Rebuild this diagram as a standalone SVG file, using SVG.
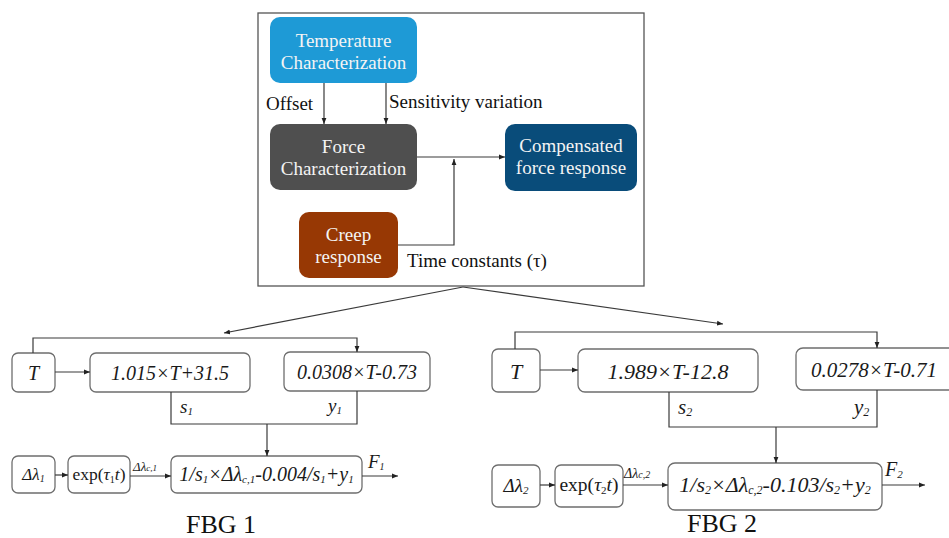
<svg xmlns="http://www.w3.org/2000/svg" width="949" height="538" viewBox="0 0 949 538" font-family="'Liberation Serif', 'Times New Roman', 'DejaVu Serif', serif">
<defs>
<style>
text{font-family:'Liberation Serif','Times New Roman','DejaVu Serif',serif}
.frame{fill:none;stroke:#555;stroke-width:1.3}
.tb{stroke:none}
.wt{font-size:19px;fill:#f4f4f4;text-anchor:middle}
.lb{font-size:19px;fill:#111}
.box{fill:#fff;stroke:#6e6e6e;stroke-width:1.3}
.ln{fill:none;stroke:#3a3a3a;stroke-width:1.2}
.it{font-style:italic;fill:#1a1a1a;text-anchor:middle}
.il{font-style:italic;fill:#1a1a1a;text-anchor:start}
.rm{fill:#1a1a1a;text-anchor:middle}
.big{font-size:26px;fill:#111;text-anchor:middle}
</style>
<marker id="ah" viewBox="0 0 10 10" refX="10" refY="5" markerWidth="6" markerHeight="6" orient="auto" markerUnits="userSpaceOnUse">
<path d="M0,1 L10,5 L0,9 z" fill="#222"/>
</marker>
</defs>
<rect width="949" height="538" fill="#fff"/>
<rect class="frame" x="258" y="13" width="386" height="273"/>

<g id="temp">
<rect class="tb" x="270" y="17" width="147" height="66" rx="10" fill="#1e9ad6"/>
<text class="wt" x="343.5" y="47">Temperature</text>
<text class="wt" x="343.5" y="69">Characterization</text>
</g>
<g id="force">
<rect class="tb" x="270" y="124" width="147" height="66" rx="10" fill="#4f4f4f"/>
<text class="wt" x="343.5" y="153">Force</text>
<text class="wt" x="343.5" y="175">Characterization</text>
</g>
<g id="comp">
<rect class="tb" x="505" y="124" width="132" height="67" rx="10" fill="#094c7a"/>
<text class="wt" x="571" y="152">Compensated</text>
<text class="wt" x="571" y="174">force response</text>
</g>
<g id="creep">
<rect class="tb" x="299" y="212" width="99" height="66" rx="10" fill="#973804"/>
<text class="wt" x="348.5" y="241">Creep</text>
<text class="wt" x="348.5" y="263">response</text>
</g>

<g id="fbg1-T"><rect class="box" x="12" y="353" width="43" height="39" rx="6"/><text class="it" x="33.5" y="380" font-size="20">T</text></g>
<g id="fbg1-s"><rect class="box" x="90" y="353" width="160" height="39" rx="6"/><text class="it" x="170" y="380" font-size="20">1.015×T+31.5</text></g>
<g id="fbg1-y"><rect class="box" x="284" y="352" width="146" height="39" rx="6"/><text class="it" x="357" y="379" font-size="20">0.0308×T-0.73</text></g>
<g id="fbg1-dl"><rect class="box" x="12" y="456" width="43" height="37" rx="6"/><text class="it" x="33.5" y="480" font-size="17">Δλ<tspan font-size="10" dy="2">1</tspan></text></g>
<g id="fbg1-exp"><rect class="box" x="68" y="456" width="62" height="37" rx="6"/><text class="rm" x="99" y="480" font-size="17.5">exp(<tspan font-style="italic">τ</tspan><tspan font-size="10" dy="3">1</tspan><tspan font-style="italic" dy="-3">t</tspan>)</text></g>
<g id="fbg1-f"><rect class="box" x="171" y="456" width="191" height="37" rx="6"/><text class="it" x="266.5" y="481" font-size="20">1/s<tspan font-size="11" dy="2">1</tspan><tspan dy="-2">×Δλ</tspan><tspan font-size="11" dy="2">c,1</tspan><tspan dy="-2">-0.004/s</tspan><tspan font-size="11" dy="2">1</tspan><tspan dy="-2">+y</tspan><tspan font-size="11" dy="2">1</tspan></text></g>

<g id="fbg2-T"><rect class="box" x="492" y="349" width="48" height="43" rx="6"/><text class="it" x="516" y="379" font-size="22">T</text></g>
<g id="fbg2-s"><rect class="box" x="578" y="349" width="180" height="43" rx="7"/><text class="it" x="668" y="379" font-size="22">1.989×T-12.8</text></g>
<g id="fbg2-y"><rect class="box" x="796" y="348" width="160" height="42" rx="7"/><text class="it" x="874" y="377" font-size="21">0.0278×T-0.71</text></g>
<g id="fbg2-dl"><rect class="box" x="492" y="465" width="48" height="42" rx="6"/><text class="it" x="516" y="492" font-size="19">Δλ<tspan font-size="11" dy="2">2</tspan></text></g>
<g id="fbg2-exp"><rect class="box" x="555" y="465" width="68" height="42" rx="6"/><text class="rm" x="589" y="491" font-size="19.5">exp(<tspan font-style="italic">τ</tspan><tspan font-size="11" dy="3">2</tspan><tspan font-style="italic" dy="-3">t</tspan>)</text></g>
<g id="fbg2-f"><rect class="box" x="668" y="463" width="214" height="47" rx="7"/><text class="it" x="775" y="492" font-size="22">1/s<tspan font-size="12" dy="2">2</tspan><tspan dy="-2">×Δλ</tspan><tspan font-size="12" dy="2">c,2</tspan><tspan dy="-2">-0.103/s</tspan><tspan font-size="12" dy="2">2</tspan><tspan dy="-2">+y</tspan><tspan font-size="12" dy="2">2</tspan></text></g>

<g id="connectors">
<line class="ln" x1="324" y1="83" x2="324" y2="124" marker-end="url(#ah)"/>
<line class="ln" x1="386" y1="83" x2="386" y2="124" marker-end="url(#ah)"/>
<line class="ln" x1="417" y1="157" x2="505" y2="157" marker-end="url(#ah)"/>
<polyline class="ln" points="398,245 454,245 454,159" marker-end="url(#ah)"/>
<line class="ln" x1="463" y1="287" x2="224" y2="333" marker-end="url(#ah)"/>
<line class="ln" x1="463" y1="287" x2="723" y2="324" marker-end="url(#ah)"/>

<polyline class="ln" points="33,353 33,338 357,338 357,352" marker-end="url(#ah)"/>
<line class="ln" x1="55" y1="372" x2="90" y2="372" marker-end="url(#ah)"/>
<polyline class="ln" points="171,392 171,424 357,424 357,391"/>
<line class="ln" x1="267" y1="424" x2="267" y2="456" marker-end="url(#ah)"/>
<line class="ln" x1="55" y1="475" x2="68" y2="475" marker-end="url(#ah)"/>
<line class="ln" x1="130" y1="476" x2="171" y2="476" marker-end="url(#ah)"/>
<line class="ln" x1="362" y1="476" x2="398" y2="476" marker-end="url(#ah)"/>

<polyline class="ln" points="515,349 515,332 877,332 877,348" marker-end="url(#ah)"/>
<line class="ln" x1="540" y1="370" x2="578" y2="370" marker-end="url(#ah)"/>
<polyline class="ln" points="669,392 669,427 877,427 877,390"/>
<line class="ln" x1="776" y1="427" x2="776" y2="463" marker-end="url(#ah)"/>
<line class="ln" x1="540" y1="485" x2="555" y2="485" marker-end="url(#ah)"/>
<line class="ln" x1="623" y1="485" x2="668" y2="485" marker-end="url(#ah)"/>
<line class="ln" x1="882" y1="485" x2="925" y2="485" marker-end="url(#ah)"/>
</g>

<g id="labels">
<text class="lb" x="266" y="110">Offset</text>
<text class="lb" x="389" y="108">Sensitivity variation</text>
<text class="lb" x="407" y="267">Time constants (τ)</text>
<text class="il" x="180" y="413" font-size="19">s<tspan font-size="11" dy="2">1</tspan></text>
<text class="il" x="328" y="412" font-size="19">y<tspan font-size="11" dy="2">1</tspan></text>
<text class="il" x="133" y="471" font-size="13">Δλ<tspan font-size="9">c,1</tspan></text>
<text class="il" x="368" y="468" font-size="19">F<tspan font-size="10" dy="2">1</tspan></text>
<text class="il" x="678" y="414" font-size="21">s<tspan font-size="12" dy="2">2</tspan></text>
<text class="il" x="854" y="414" font-size="21">y<tspan font-size="12" dy="2">2</tspan></text>
<text class="il" x="624" y="478" font-size="14">Δλ<tspan font-size="10">c,2</tspan></text>
<text class="il" x="885" y="476" font-size="20">F<tspan font-size="11" dy="2">2</tspan></text>
<text class="big" x="221" y="533">FBG 1</text>
<text class="big" x="722" y="532">FBG 2</text>
</g>
</svg>
